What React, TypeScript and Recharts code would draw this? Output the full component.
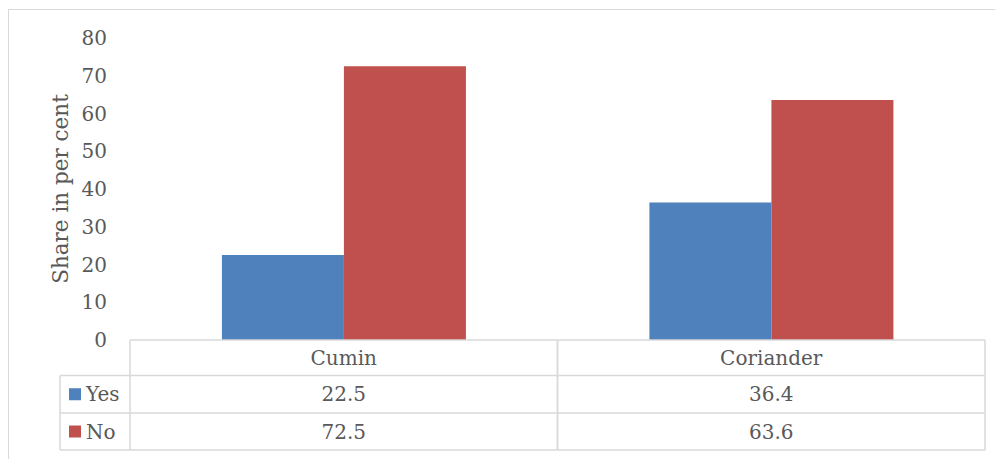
import React from 'react';
import { BarChart, Bar, XAxis, YAxis } from 'recharts';

const categories = ['Cumin', 'Coriander'];
const yesValues = [22.5, 36.4];
const noValues = [72.5, 63.6];
const yTicks = [0, 10, 20, 30, 40, 50, 60, 70, 80];

const series = [
  { key: 'yes', name: 'Yes', color: '#4F81BD', values: yesValues },
  { key: 'no', name: 'No', color: '#C0504D', values: noValues },
];

const data = categories.map((c, i) => ({ name: c, yes: yesValues[i], no: noValues[i] }));

// layout
const W = 994;
const H = 449;
const MARGIN = { top: 28, right: 18, left: 61, bottom: 0 };
const Y_AXIS_W = 60;
const X_AXIS_H = 119;
const PLOT_LEFT = MARGIN.left + Y_AXIS_W;
const PLOT_RIGHT = W - MARGIN.right;
const BAND = (PLOT_RIGHT - PLOT_LEFT) / categories.length;
const TABLE_TOP = H - MARGIN.bottom - X_AXIS_H;
const ROWS = [TABLE_TOP, TABLE_TOP + 35.5, TABLE_TOP + 73, TABLE_TOP + 110];
const LEGEND_LEFT = 51;

const FONT = '"DejaVu Serif", serif';
const TEXT = '#595959';
const GRID = '#d9d9d9';

const TableTick = (props: any) => {
  const { payload, index } = props;
  const cx = payload.coordinate;
  const x0 = cx - BAND / 2;
  const x1 = cx + BAND / 2;
  const mid = (a: number, b: number) => (a + b) / 2 + 7;
  return (
    <g>
      <line x1={x0} x2={x0} y1={ROWS[0]} y2={ROWS[3]} stroke={GRID} strokeWidth={1.5} />
      <line x1={x1} x2={x1} y1={ROWS[0]} y2={ROWS[3]} stroke={GRID} strokeWidth={1.5} />
      {ROWS.slice(1).map((r) => (
        <line key={r} x1={x0} x2={x1} y1={r} y2={r} stroke={GRID} strokeWidth={1.5} />
      ))}
      <text x={cx} y={mid(ROWS[0], ROWS[1])} textAnchor="middle" fill={TEXT} fontSize={20} fontFamily={FONT}>
        {payload.value}
      </text>
      {series.map((s, i) => (
        <text key={s.key} x={cx} y={mid(ROWS[i + 1], ROWS[i + 2])} textAnchor="middle" fill={TEXT} fontSize={20} fontFamily={FONT}>
          {s.values[index]}
        </text>
      ))}
      {index === 0 && (
        <g>
          <line x1={LEGEND_LEFT} x2={LEGEND_LEFT} y1={ROWS[1]} y2={ROWS[3]} stroke={GRID} strokeWidth={1.5} />
          {ROWS.slice(1).map((r) => (
            <line key={r} x1={LEGEND_LEFT} x2={x0} y1={r} y2={r} stroke={GRID} strokeWidth={1.5} />
          ))}
          {series.map((s, i) => (
            <g key={s.key}>
              <rect x={LEGEND_LEFT + 9} y={(ROWS[i + 1] + ROWS[i + 2]) / 2 - 6} width={12} height={12} fill={s.color} />
              <text x={LEGEND_LEFT + 26} y={mid(ROWS[i + 1], ROWS[i + 2])} fill={TEXT} fontSize={20} fontFamily={FONT}>
                {s.name}
              </text>
            </g>
          ))}
        </g>
      )}
    </g>
  );
};

const YLabel = () => (
  <text
    x={51}
    y={179}
    transform="rotate(-90 51 179)"
    textAnchor="middle"
    dominantBaseline="central"
    fill={TEXT}
    fontSize={21.5}
    fontFamily={FONT}
  >
    Share in per cent
  </text>
);

const App = () => (
  <div
    style={{
      position: 'relative',
      top: 1,
      width: W,
      height: H + 1,
      borderLeft: '1px solid #d9d9d9',
      borderTop: '1px solid #d9d9d9',
      background: '#fff',
    }}
  >
    <BarChart width={W} height={H} data={data} margin={MARGIN} barCategoryGap="21.5%" barGap={0}>
      <XAxis
        dataKey="name"
        height={X_AXIS_H}
        interval={0}
        tickLine={false}
        axisLine={{ stroke: GRID, strokeWidth: 1.5 }}
        tick={<TableTick />}
      />
      <YAxis
        width={Y_AXIS_W}
        domain={[0, 80]}
        ticks={yTicks}
        axisLine={false}
        tickLine={false}
        tickMargin={17}
        tick={{ fill: TEXT, fontSize: 20, fontFamily: FONT }}
        label={<YLabel />}
      />
      {series.map((s) => (
        <Bar key={s.key} dataKey={s.key} name={s.name} fill={s.color} isAnimationActive={false} />
      ))}
    </BarChart>
  </div>
);

export default App;
